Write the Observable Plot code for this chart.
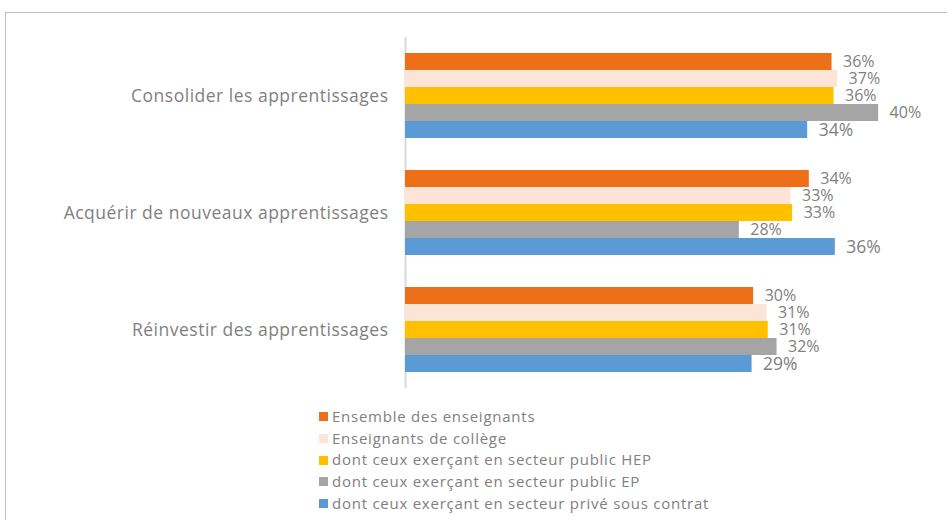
<!DOCTYPE html>
<html>
<head>
<meta charset="utf-8">
<script src="https://cdn.jsdelivr.net/npm/d3@7"></script>
<script src="https://cdn.jsdelivr.net/npm/@observablehq/plot@0.6"></script>
<style>
  html, body { margin: 0; padding: 0; background: #fff; }
  #page { position: relative; width: 947px; height: 520px; overflow: hidden; font-family: "Open Sans", sans-serif; }
  #frame { position: absolute; left: 5px; top: 12px; width: 1000px; height: 600px; border-top: 1px solid #bfbfbf; border-left: 1px solid #bfbfbf; }
  #chart { position: absolute; left: 0; top: 0; }
  #chart svg g[aria-label="fy-axis tick label"] text { letter-spacing: 0.5px; }
  #legend { position: absolute; left: 319px; top: 406px; font-size: 15px; letter-spacing: 0.75px; line-height: 21.7px; color: #808080; }
  #legend .item { display: flex; align-items: center; white-space: nowrap; }
  #legend .sw { width: 9px; height: 9px; margin-right: 4px; display: inline-block; }
</style>
</head>
<body>
<div id="page">
  <div id="frame"></div>
  <div id="chart"></div>
  <div id="legend"></div>
</div>
<script>
const categories = [
  "Consolider les apprentissages",
  "Acquérir de nouveaux apprentissages",
  "Réinvestir des apprentissages"
];
const series = [
  "Ensemble des enseignants",
  "Enseignants de collège",
  "dont ceux exerçant en secteur public HEP",
  "dont ceux exerçant en secteur public EP",
  "dont ceux exerçant en secteur privé sous contrat"
];
const colors = ["#ED7019", "#FCE4D6", "#FFC000", "#A5A5A5", "#5B9BD5"];

// bar lengths (percent)
const ensemble = [36.07, 34.15, 29.44];
const college  = [36.54, 32.60, 30.57];
const hep      = [36.24, 32.74, 30.68];
const ep       = [40.01, 28.23, 31.42];
const prive    = [34.01, 36.35, 29.31];

// displayed labels (percent)
const ensembleLbl = [36, 34, 30];
const collegeLbl  = [37, 33, 31];
const hepLbl      = [36, 33, 31];
const epLbl       = [40, 28, 32];
const priveLbl    = [34, 36, 29];

const valueSets = [ensemble, college, hep, ep, prive];
const labelSets = [ensembleLbl, collegeLbl, hepLbl, epLbl, priveLbl];

const rows = [];
categories.forEach((c, ci) => {
  series.forEach((s, si) => {
    rows.push({category: c, series: s, value: valueSets[si][ci], label: labelSets[si][ci]});
  });
});

const chart = Plot.plot({
  width: 947,
  height: 400,
  marginLeft: 405,
  marginRight: 69,
  marginTop: 36,
  marginBottom: 11,
  style: {fontFamily: "'Open Sans', sans-serif", fontSize: "17.5px", color: "#7f7f7f", background: "transparent"},
  x: {domain: [0, 40], axis: null},
  y: {domain: series, padding: 0, axis: null},
  fy: {domain: categories, paddingInner: 0.27, paddingOuter: 0.135, label: null, tickSize: 0, tickPadding: 17},
  color: {domain: series, range: colors},
  marks: [
    Plot.ruleX(categories.map(c => ({category: c})), {x: () => 0, fy: "category", stroke: "#d9d9d9", strokeWidth: 2, insetTop: -16, insetBottom: -16}),
    Plot.barX(rows, {x: "value", y: "series", fy: "category", fill: "series"}),
    Plot.text(rows, {
      x: "value", y: "series", fy: "category",
      text: d => d.label + "%",
      dx: 11, textAnchor: "start", fill: "#808080",
      fontSize: d => d.series === series[4] ? 17.5 : 16
    })
  ]
});
document.getElementById("chart").appendChild(chart);

const legend = document.getElementById("legend");
series.forEach((s, i) => {
  const item = document.createElement("div");
  item.className = "item";
  const sw = document.createElement("span");
  sw.className = "sw";
  sw.style.background = colors[i];
  const t = document.createElement("span");
  t.textContent = s;
  item.appendChild(sw);
  item.appendChild(t);
  legend.appendChild(item);
});
</script>
</body>
</html>
